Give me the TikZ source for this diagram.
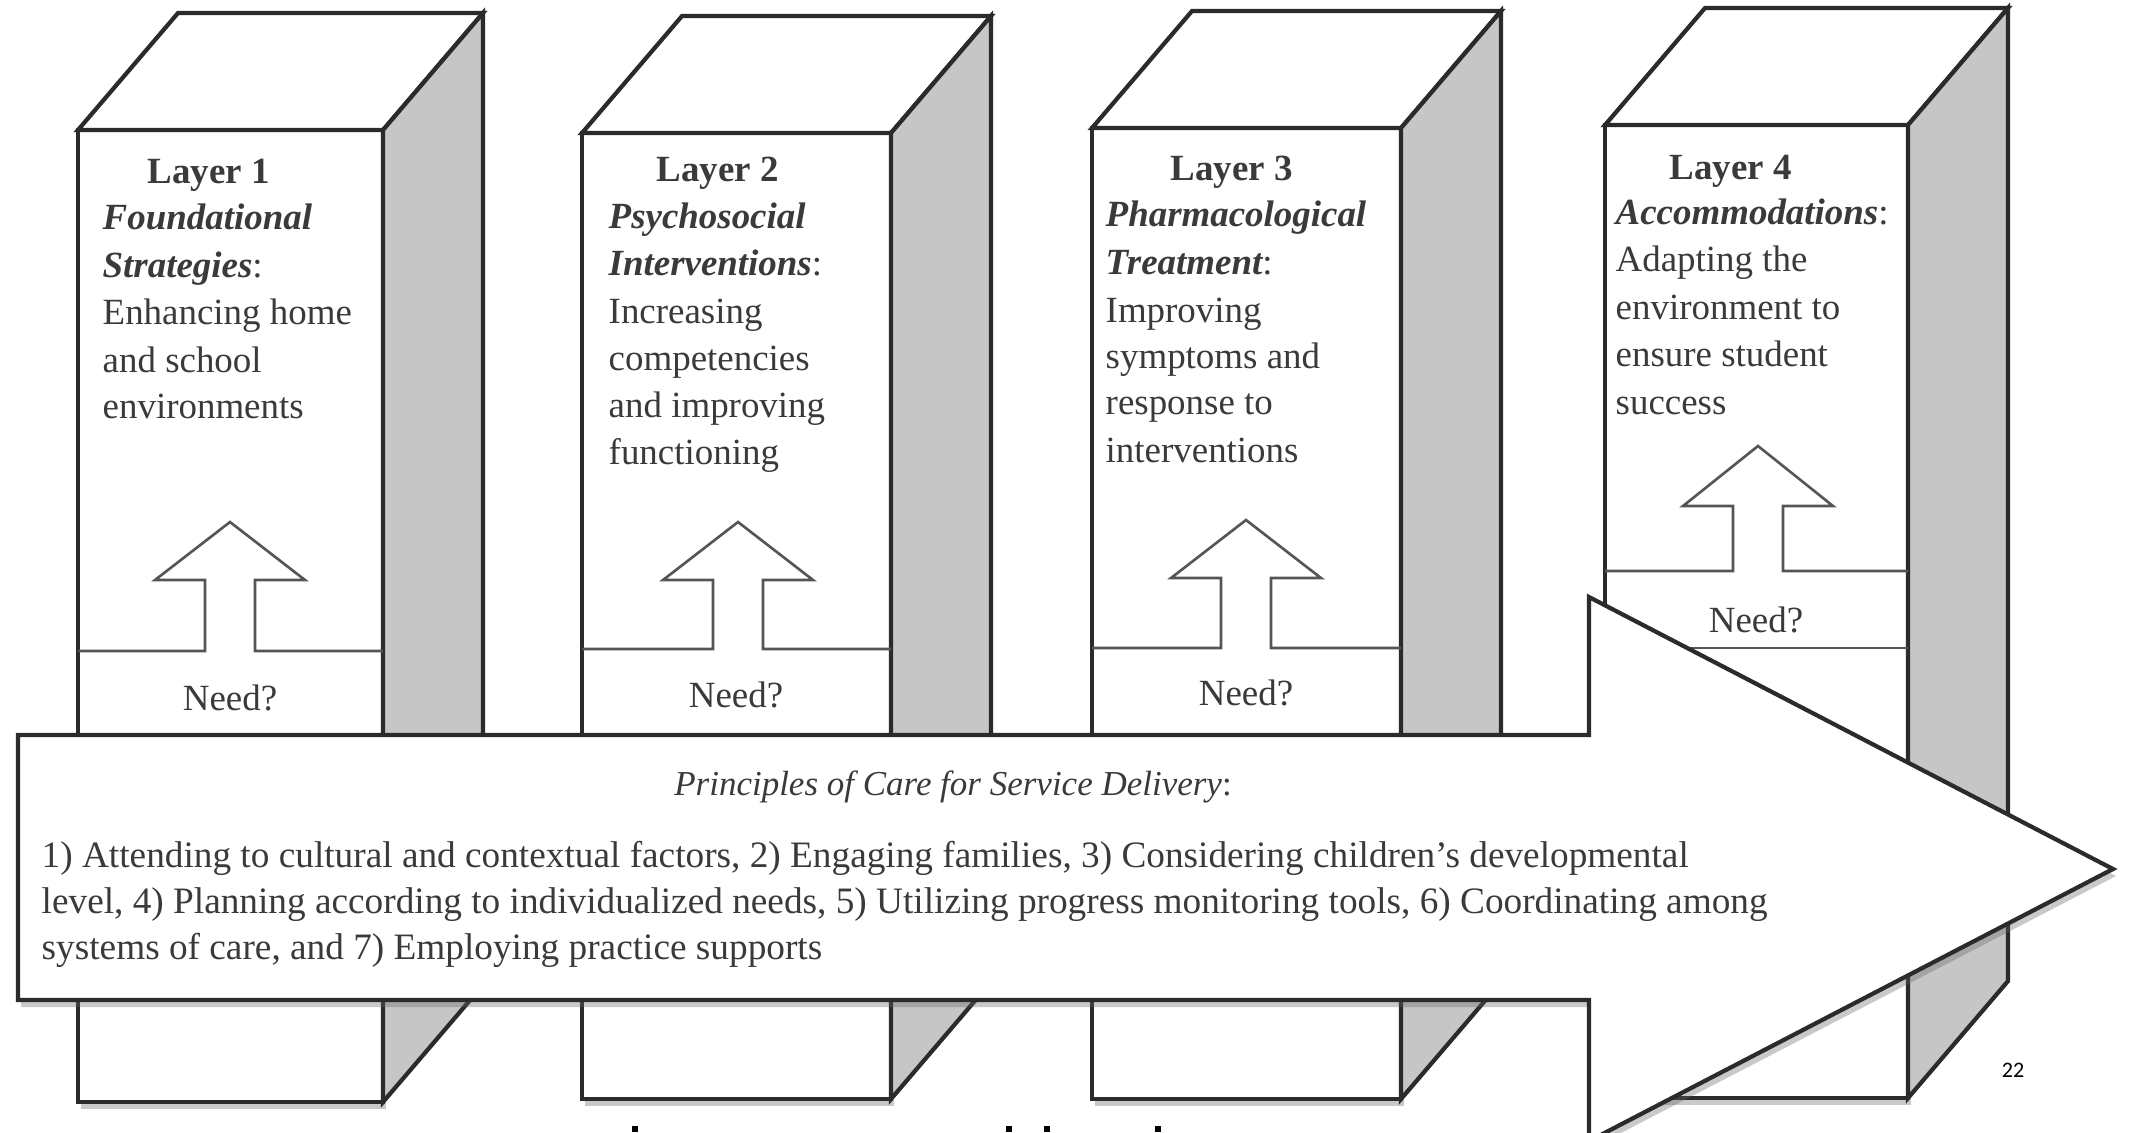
\documentclass[tikz,border=0pt]{standalone}
\usepackage{fontspec}
\setmainfont{Liberation Serif}
\newfontfamily\pgnumfont{Carlito}
\usetikzlibrary{shadows}
\definecolor{edge}{HTML}{2B2B2B}
\definecolor{sidegray}{HTML}{C6C6C6}
\definecolor{txt}{HTML}{3A3A3A}
\tikzset{
  boxline/.style={draw=edge, line width=1.2pt, line join=miter},
  needline/.style={draw=edge!80, line width=0.75pt},
  ltxt/.style={anchor=base west, inner sep=0pt, text=txt, font=\fontsize{10.5pt}{12pt}\selectfont},
  ntxt/.style={anchor=base, inner sep=0pt, text=txt, font=\fontsize{10.5pt}{12pt}\selectfont},
  ttxt/.style={anchor=base, inner sep=0pt, text=txt, font=\fontsize{9.95pt}{12pt}\selectfont},
  atxt/.style={anchor=base west, inner sep=0pt, text=txt, font=\fontsize{10.6pt}{12pt}\selectfont},
  softshadow/.style={drop shadow={shadow xshift=0.03cm, shadow yshift=-0.07cm, opacity=0.35, fill=black!60}},
  frag/.style={fill=black},
}
\newcommand\drawlayerbox[4]{% L R T B
  \filldraw[boxline, fill=white, softshadow] (#1,#3) rectangle (#2,#4);
  \filldraw[boxline, fill=white] (#1,#3) -- (#1+100,#3-117) -- (#2+100,#3-117) -- (#2,#3) -- cycle;
  \filldraw[boxline, fill=sidegray] (#2,#3) -- (#2+100,#3-117) -- (#2+100,#4-117) -- (#2,#4) -- cycle;
}
\newcommand\drawneedarrow[6]{% L R cx apexY wingY lineY
  \draw[needline] (#1,#6) -- (#3-25,#6) -- (#3-25,#5) -- (#3-75,#5) -- (#3,#4)
     -- (#3+75,#5) -- (#3+25,#5) -- (#3+25,#6) -- (#2,#6);
}
\begin{document}
\begin{tikzpicture}[x=0.01cm, y=-0.01cm]
\useasboundingbox (0,0) rectangle (2133,1132);
\clip (0,0) rectangle (2133,1132);
\fill[white] (0,0) rectangle (2133,1132);

% ---- Layer boxes ----
\drawlayerbox{78}{383}{130}{1102}
\drawlayerbox{582}{891}{133}{1099}
\drawlayerbox{1092}{1401}{128}{1099}
\drawlayerbox{1605}{1908}{125}{1098}

% need arrows and bands
\drawneedarrow{78}{383}{230}{522}{580}{651}
\drawneedarrow{582}{891}{738}{522}{580}{649}
\drawneedarrow{1092}{1401}{1246}{520}{578}{648}
\drawneedarrow{1605}{1908}{1758}{446}{506}{571}
\draw[needline] (1605,648) -- (1908,648);

\node[ntxt] (need1) at (230,710) {Need?};
\node[ntxt] (need2) at (736,707) {Need?};
\node[ntxt] (need3) at (1246,705) {Need?};
\node[ntxt] (need4) at (1756,632) {Need?};

% ---- Layer 1 text ----
\node[ltxt] (l1a) at (147,183) {\bfseries Layer 1};
\node[ltxt] (l1b) at (102,229) {\bfseries\itshape Foundational};
\node[ltxt] (l1c) at (102,277) {{\bfseries\itshape Strategies}:};
\node[ltxt] (l1d) at (102,324) {Enhancing home};
\node[ltxt] (l1e) at (102,372) {and school};
\node[ltxt] (l1f) at (102,418) {environments};

% ---- Layer 2 text ----
\node[ltxt] (l2a) at (656,181) {\bfseries Layer 2};
\node[ltxt] (l2b) at (608,228) {\bfseries\itshape Psychosocial};
\node[ltxt] (l2c) at (608,275) {{\bfseries\itshape Interventions}:};
\node[ltxt] (l2d) at (608,323) {Increasing};
\node[ltxt] (l2e) at (608,370) {competencies};
\node[ltxt] (l2f) at (608,417) {and improving};
\node[ltxt] (l2g) at (608,464) {functioning};

% ---- Layer 3 text ----
\node[ltxt] (l3a) at (1170,180) {\bfseries Layer 3};
\node[ltxt] (l3b) at (1105,226) {\bfseries\itshape Pharmacological};
\node[ltxt] (l3c) at (1105,274) {{\bfseries\itshape Treatment}:};
\node[ltxt] (l3d) at (1105,322) {Improving};
\node[ltxt] (l3e) at (1105,368) {symptoms and};
\node[ltxt] (l3f) at (1105,414) {response to};
\node[ltxt] (l3g) at (1105,462) {interventions};

% ---- Layer 4 text ----
\node[ltxt] (l4a) at (1669,179) {\bfseries Layer 4};
\node[ltxt] (l4b) at (1615,224) {{\bfseries\itshape Accommodations}:};
\node[ltxt] (l4c) at (1615,271) {Adapting the};
\node[ltxt] (l4d) at (1615,319) {environment to};
\node[ltxt] (l4e) at (1615,366) {ensure student};
\node[ltxt] (l4f) at (1615,414) {success};

% ---- Big arrow ----
\filldraw[boxline, fill=white, softshadow]
  (18,735) -- (1589,735) -- (1589,597) -- (2113,869) -- (1589,1141)
  -- (1589,1000) -- (18,1000) -- cycle;

\node[ttxt] (ptitle) at (953,795) {\itshape Principles of Care for Service Delivery\/\upshape:};
\node[atxt] (p1) at (41,867) {1) Attending to cultural and contextual factors, 2) Engaging families, 3) Considering children’s developmental};
\node[atxt] (p2) at (41,913) {level, 4) Planning according to individualized needs, 5) Utilizing progress monitoring tools, 6) Coordinating among};
\node[atxt] (p3) at (41,959) {systems of care, and 7) Employing practice supports};

% page number
\node[inner sep=0pt, font=\pgnumfont\fontsize{6.3pt}{7pt}\selectfont] (pg) at (2013,1070) {22};

% cut-off glyph tops at the bottom edge
\fill[frag] (632,1126) rectangle (638,1132);
\fill[frag] (1006,1126) rectangle (1012,1132);
\fill[frag] (1044,1126) rectangle (1050,1132);
\fill[frag] (1155,1126) rectangle (1161,1132);
\end{tikzpicture}
\end{document}
